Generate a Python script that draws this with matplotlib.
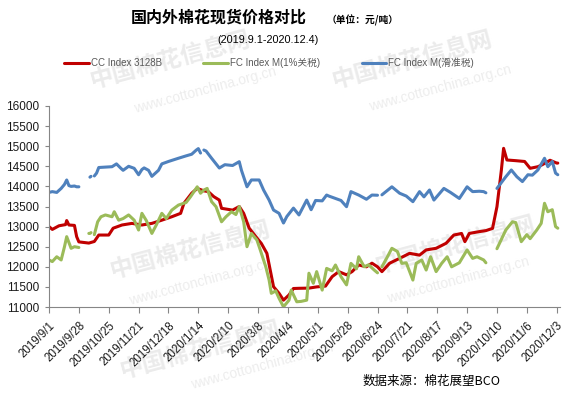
import matplotlib
matplotlib.use('Agg')
import matplotlib.pyplot as plt
import numpy as np
import pandas as pd

plt.rcParams['font.family'] = ['Liberation Sans', 'Noto Sans CJK SC', 'DejaVu Sans']

# CC Index 3128B
cc_dates = ['2019-09-01', '2019-09-04', '2019-09-10', '2019-09-16', '2019-09-17', '2019-09-19',
            '2019-09-24', '2019-09-26', '2019-09-28', '2019-10-07', '2019-10-12', '2019-10-16',
            '2019-10-25', '2019-10-29', '2019-11-06', '2019-11-15', '2019-11-24', '2019-12-03',
            '2019-12-12', '2019-12-21', '2019-12-29', '2020-01-01', '2020-01-08', '2020-01-13',
            '2020-01-19', '2020-01-23', '2020-01-28', '2020-02-02', '2020-02-04', '2020-02-14',
            '2020-02-20', '2020-02-24', '2020-02-29', '2020-03-06', '2020-03-11', '2020-03-16',
            '2020-03-19', '2020-03-22', '2020-03-27', '2020-03-31', '2020-04-05', '2020-04-09',
            '2020-04-14', '2020-04-23', '2020-04-30', '2020-05-08', '2020-05-14', '2020-05-20',
            '2020-05-27', '2020-06-01', '2020-06-07', '2020-06-14', '2020-06-19', '2020-06-24',
            '2020-06-28', '2020-07-05', '2020-07-14', '2020-07-23', '2020-08-01', '2020-08-07',
            '2020-08-16', '2020-08-25', '2020-09-01', '2020-09-08', '2020-09-11', '2020-09-15',
            '2020-09-24', '2020-09-30', '2020-10-06', '2020-10-10', '2020-10-14', '2020-10-16',
            '2020-10-19', '2020-10-27', '2020-11-04', '2020-11-09', '2020-11-16', '2020-11-20',
            '2020-11-27', '2020-12-03', '2020-12-04']
cc_values = [13000, 12930, 13020, 13050, 13150, 13040,
             13030, 12750, 12620, 12590, 12630, 12790,
             12790, 12960, 13040, 13080, 13040, 13080,
             13160, 13245, 13330, 13580, 13830, 13950,
             13890, 13870, 13745, 13660, 13455, 13410,
             13500, 13330, 12960, 12750, 12580, 12335,
             11920, 11505, 11340, 11170, 11300, 11460,
             11465, 11470, 11500, 11520, 11755, 11880,
             11800, 11880, 12045, 12000, 12090, 12000,
             11880, 12090, 12210, 12335, 12290, 12420,
             12460, 12585, 12790, 12830, 12625, 12830,
             12875, 12900, 12955, 13495, 14408, 14947,
             14657, 14640, 14620, 14450, 14490, 14540,
             14650, 14580, 14580]

# FC Index M (1% 关税)
fc1_dates = ['2019-09-01', '2019-09-04', '2019-09-08', '2019-09-12', '2019-09-15', '2019-09-17',
             '2019-09-21', '2019-09-24', '2019-09-28', '2019-10-03', '2019-10-07', '2019-10-08',
             '2019-10-09', '2019-10-10', '2019-10-12', '2019-10-15', '2019-10-18', '2019-10-22',
             '2019-10-28', '2019-10-30', '2019-11-03', '2019-11-07', '2019-11-12', '2019-11-17',
             '2019-11-21', '2019-11-24', '2019-11-28', '2019-12-03', '2019-12-07', '2019-12-12',
             '2019-12-16', '2019-12-21', '2019-12-27', '2020-01-03', '2020-01-07', '2020-01-13',
             '2020-01-16', '2020-01-19', '2020-01-22', '2020-01-26', '2020-01-30', '2020-02-04',
             '2020-02-08', '2020-02-13', '2020-02-17', '2020-02-20', '2020-02-24', '2020-02-27',
             '2020-03-02', '2020-03-07', '2020-03-10', '2020-03-15', '2020-03-18', '2020-03-20',
             '2020-03-24', '2020-03-27', '2020-03-31', '2020-04-05', '2020-04-07', '2020-04-12',
             '2020-04-16', '2020-04-21', '2020-04-23', '2020-04-27', '2020-04-30', '2020-05-05',
             '2020-05-09', '2020-05-14', '2020-05-17', '2020-05-22', '2020-05-27', '2020-05-31',
             '2020-06-05', '2020-06-07', '2020-06-12', '2020-06-16', '2020-06-21', '2020-06-24',
             '2020-06-26', '2020-06-28', '2020-07-03', '2020-07-07', '2020-07-12', '2020-07-16',
             '2020-07-20', '2020-07-26', '2020-07-29', '2020-08-03', '2020-08-07', '2020-08-11',
             '2020-08-16', '2020-08-21', '2020-08-26', '2020-08-30', '2020-09-06', '2020-09-13',
             '2020-09-18', '2020-09-22', '2020-09-28', '2020-09-30', '2020-10-05', '2020-10-10',
             '2020-10-18', '2020-10-24', '2020-10-27', '2020-11-01', '2020-11-06', '2020-11-09',
             '2020-11-15', '2020-11-19', '2020-11-22', '2020-11-25', '2020-11-29', '2020-12-02',
             '2020-12-04']
fc1_values = [12170, 12130, 12250, 12170, 12500, 12750,
              12460, 12500, 12480, None, 12830, 12830,
              12850, None, 12800, 13120, 13245, 13290,
              13245, 13370, 13160, 13200, 13290, 13160,
              12915, 13330, 13150, 12830, 13040, 13330,
              13200, 13410, 13535, 13600, 13745, 13990,
              13830, 13910, 13950, 13620, 13495, 13120,
              13245, 13370, 13300, 13500, 13120, 12500,
              12830, 12665, 12420, 12000, 11670, 11340,
              11400, 11215, 11005, 11170, 11420, 11130,
              11140, 11170, 11840, 11590, 11880, 11420,
              11960, 11900, 12045, 11755, 11550, 12085,
              11950, 12250, 12000, 12050, 11920, 11850,
              None, 12000, 12250, 12460, 12380, 12085,
              12100, 11670, 12085, 12170, 11920, 12250,
              11880, 12085, 12250, 12000, 12100, 12420,
              12210, 12250, 12170, 12100, None, 12450,
              12915, 13120, 13100, 12625, 12800, 12700,
              12915, 13080, 13580, 13370, 13420, 13000,
              12960]

# FC Index M (滑准税)
fcs_dates = ['2019-09-01', '2019-09-04', '2019-09-08', '2019-09-10', '2019-09-12', '2019-09-15',
             '2019-09-17', '2019-09-19', '2019-09-21', '2019-09-24', '2019-09-26', '2019-09-28',
             '2019-10-03', '2019-10-08', '2019-10-09', '2019-10-10', '2019-10-12', '2019-10-14',
             '2019-10-16', '2019-10-22', '2019-10-28', '2019-11-01', '2019-11-05', '2019-11-07',
             '2019-11-12', '2019-11-17', '2019-11-21', '2019-11-24', '2019-11-26', '2019-11-30',
             '2019-12-03', '2019-12-09', '2019-12-12', '2019-12-18', '2019-12-27', '2020-01-03',
             '2020-01-08', '2020-01-12', '2020-01-14', '2020-01-16', '2020-01-17', '2020-01-19',
             '2020-01-21', '2020-01-26', '2020-02-02', '2020-02-07', '2020-02-14', '2020-02-20',
             '2020-02-22', '2020-02-27', '2020-03-02', '2020-03-09', '2020-03-13', '2020-03-18',
             '2020-03-22', '2020-03-27', '2020-03-31', '2020-04-03', '2020-04-09', '2020-04-14',
             '2020-04-21', '2020-04-25', '2020-04-29', '2020-05-05', '2020-05-09', '2020-05-11',
             '2020-05-17', '2020-05-22', '2020-05-27', '2020-05-31', '2020-06-07', '2020-06-14',
             '2020-06-19', '2020-06-24', '2020-06-26', '2020-06-28', '2020-07-07', '2020-07-14',
             '2020-07-20', '2020-07-26', '2020-08-01', '2020-08-05', '2020-08-10', '2020-08-14',
             '2020-08-23', '2020-08-29', '2020-09-06', '2020-09-13', '2020-09-18', '2020-09-24',
             '2020-09-28', '2020-09-30', '2020-10-05', '2020-10-10', '2020-10-18', '2020-10-23',
             '2020-10-28', '2020-11-02', '2020-11-07', '2020-11-11', '2020-11-16', '2020-11-22',
             '2020-11-25', '2020-11-29', '2020-12-02', '2020-12-04']
fcs_values = [13850, 13870, 13850, 13900, 13950, 14050,
              14160, 14020, 14000, 14010, 13990, 13990,
              None, 14230, 14250, None, 14260, 14330,
              14470, 14480, 14490, 14560, 14450, 14400,
              14500, 14450, 14290, 14420, 14460, 14400,
              14250, 14400, 14560, 14620, 14700, 14760,
              14800, 14900, 14940, 14830, None, 14905,
              14880, 14700, 14457, 14540, 14520, 14615,
              14400, 13990, 14160, 14160, 13910, 13660,
              13412, 13330, 13089, 13250, 13460, 13290,
              13660, 13420, 13650, 13640, 13785, 13760,
              13700, 13650, 13495, 13870, 13785, 13680,
              13785, 13780, None, 13790, 13990, 13830,
              13760, 13620, 13870, 13740, 13910, 13660,
              13950, 13850, 13700, 13990, 13870, 13880,
              13870, 13840, None, 13950, 14240, 14408,
              14240, 14120, 14290, 14280, 14408, 14700,
              14490, 14620, 14330, 14290]

tick_labels = ['2019/9/1', '2019/9/28', '2019/10/25', '2019/11/21', '2019/12/18', '2020/1/14',
               '2020/2/10', '2020/3/8', '2020/4/4', '2020/5/1', '2020/5/28', '2020/6/24',
               '2020/7/21', '2020/8/17', '2020/9/13', '2020/10/10', '2020/11/6', '2020/12/3']
y_ticks = list(range(11000, 16001, 500))

series = [
    ('CC Index 3128B', cc_dates, cc_values, '#C00000'),
    ('FC Index M(1%关税)', fc1_dates, fc1_values, '#9BBB59'),
    ('FC Index M(滑准税)', fcs_dates, fcs_values, '#4F81BD'),
]

W, H = 564, 398
fig = plt.figure(figsize=(W / 100, H / 100), dpi=100)
ax = fig.add_axes([49 / W, 1 - 307 / H, (560 - 49) / W, (307 - 106) / H])


def fx(px):
    return px / W


def fy(py):
    return 1 - py / H


# faint site watermarks, behind everything
marks = [(170, 60, 205, 90), (412, 60, 440, 88), (190, 250, 200, 282),
         (455, 245, 458, 280), (200, 350, 262, 366)]
for tx, ty, wx, wy in marks:
    fig.text(fx(tx), fy(ty), '中国棉花信息网', fontsize=17, fontweight='bold',
             color='#ebebeb', rotation=15, ha='center', va='center', zorder=-1,
             family=['Noto Sans CJK SC'])
    fig.text(fx(wx), fy(wy), 'www.cottonchina.org.cn', fontsize=10,
             color='#ededed', rotation=15, ha='center', va='center', zorder=-1)

ax.patch.set_alpha(0)
for name, d, v, c in series:
    ax.plot(pd.to_datetime(d), np.array(v, dtype=float), color=c, lw=2.2,
            label=name, solid_joinstyle='round', solid_capstyle='round')

ax.set_ylim(11000, 16000)
ax.set_yticks(y_ticks)
ax.set_yticklabels([str(t) for t in y_ticks])
ax.set_xlim(pd.Timestamp('2019-09-01'), pd.Timestamp('2020-12-06'))
tick_dates = pd.to_datetime(tick_labels, format='%Y/%m/%d')
ax.set_xticks(tick_dates)
ax.set_xticklabels(tick_labels, rotation=45, ha='right', rotation_mode='anchor')

for s in ['top', 'right']:
    ax.spines[s].set_visible(False)
for s in ['left', 'bottom']:
    ax.spines[s].set_color('#868686')
    ax.spines[s].set_linewidth(0.8)
ax.tick_params(axis='y', length=3, width=0.8, color='#868686', labelsize=8.5,
               labelcolor='#1a1a1a', pad=4)
ax.tick_params(axis='x', length=4, width=0.8, color='#868686', labelsize=8.3,
               labelcolor='#1a1a1a', pad=5)

fig.text(fx(219), fy(18), '国内外棉花现货价格对比', fontsize=11.5, fontweight='bold',
         ha='center', va='center', family=['Noto Sans CJK SC'])
fig.text(fx(363), fy(20), '（单位：元/吨）', fontsize=7, fontweight='bold',
         ha='center', va='center', family=['Noto Sans CJK SC'])
fig.text(fx(268), fy(40), '(2019.9.1-2020.12.4)', fontsize=7.8, ha='center', va='center')
fig.text(fx(432), fy(381), '数据来源：棉花展望BCO', fontsize=9, ha='center', va='center',
         family=['Noto Sans CJK SC'])

fig.legend(loc='center', bbox_to_anchor=(fx(269), fy(63)), ncol=3, frameon=False,
           fontsize=7, labelcolor='#595959', handlelength=2.5, handletextpad=0.2,
           columnspacing=4.3)

fig.savefig('out.png', dpi=100)
